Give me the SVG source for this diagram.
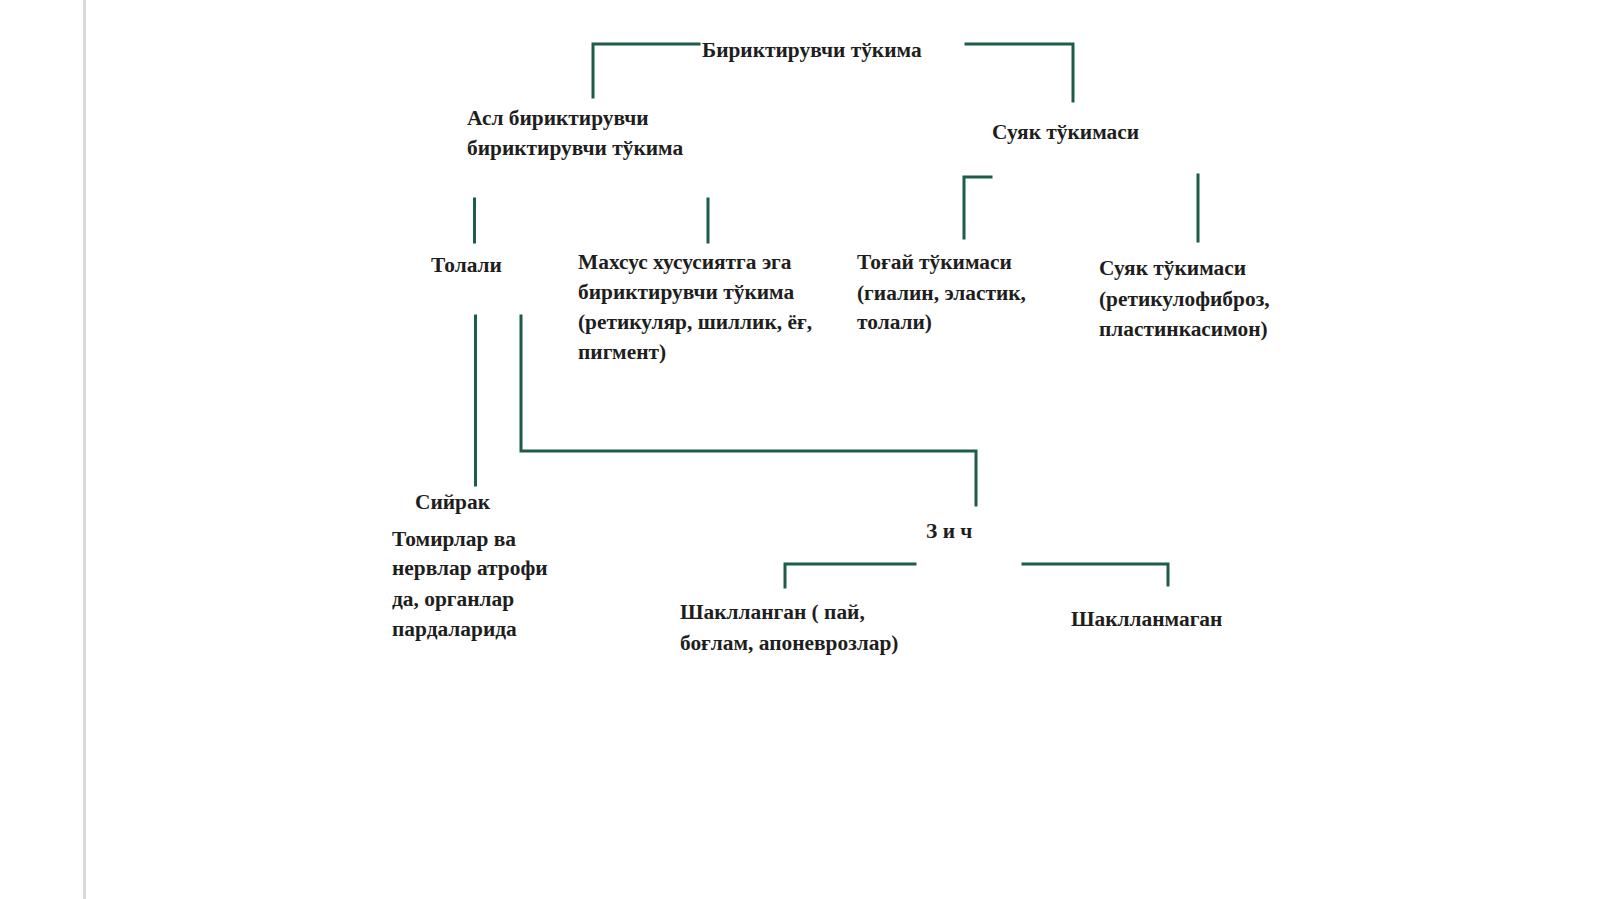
<svg xmlns="http://www.w3.org/2000/svg" width="1600" height="899" viewBox="0 0 1600 899">
<style>
text{font-family:"Liberation Serif","Times New Roman",serif;font-weight:bold;font-size:21.4px;fill:#1e1e1e}
.c{fill:none;stroke:#1d5c48;stroke-width:3;stroke-linecap:square;stroke-linejoin:miter}
</style>
<rect width="1600" height="899" fill="#ffffff"/>
<line x1="84.5" y1="0" x2="84.5" y2="899" stroke="#d9d9d9" stroke-width="3"/>
<g id="connectors">
<path class="c" d="M593 97V44H699"/>
<path class="c" d="M966 44H1073V101"/>
<path class="c" d="M474.5 199V242"/>
<path class="c" d="M708 199V242"/>
<path class="c" d="M964 238V177H991"/>
<path class="c" d="M1198 175V241"/>
<path class="c" d="M475.5 316V485"/>
<path class="c" d="M521 316V451H976V505"/>
<path class="c" d="M785 587V564H915"/>
<path class="c" d="M1023 564H1168V585"/>
</g>
<g id="n-root"><text x="702" y="57">Бириктирувчи тўкима</text></g>
<g id="n-asl"><text x="467" y="125">Асл бириктирувчи</text><text x="467" y="155">бириктирувчи тўкима</text></g>
<g id="n-suyak"><text x="992" y="139">Суяк тўкимаси</text></g>
<g id="n-tolali"><text x="431" y="272">Толали</text></g>
<g id="n-maxsus"><text x="578" y="269">Махсус хусусиятга эга</text><text x="578" y="299">бириктирувчи тўкима</text><text x="578" y="329">(ретикуляр, шиллик, ёғ,</text><text x="578" y="359">пигмент)</text></g>
<g id="n-togay"><text x="857" y="269">Тоғай тўкимаси</text><text x="857" y="300">(гиалин, эластик,</text><text x="857" y="329">толали)</text></g>
<g id="n-suyak2"><text x="1099" y="275">Суяк тўкимаси</text><text x="1099" y="306">(ретикулофиброз,</text><text x="1099" y="336">пластинкасимон)</text></g>
<g id="n-siyrak"><text x="415" y="509">Сийрак</text><text x="392" y="546">Томирлар ва</text><text x="392" y="575">нервлар атрофи</text><text x="392" y="606">да, органлар</text><text x="392" y="636">пардаларида</text></g>
<g id="n-zich"><text x="926" y="538">З и ч</text></g>
<g id="n-shakl"><text x="680" y="619">Шаклланган ( пай,</text><text x="680" y="650">боғлам, апоневрозлар)</text></g>
<g id="n-shaklm"><text x="1071" y="626">Шаклланмаган</text></g>
</svg>
